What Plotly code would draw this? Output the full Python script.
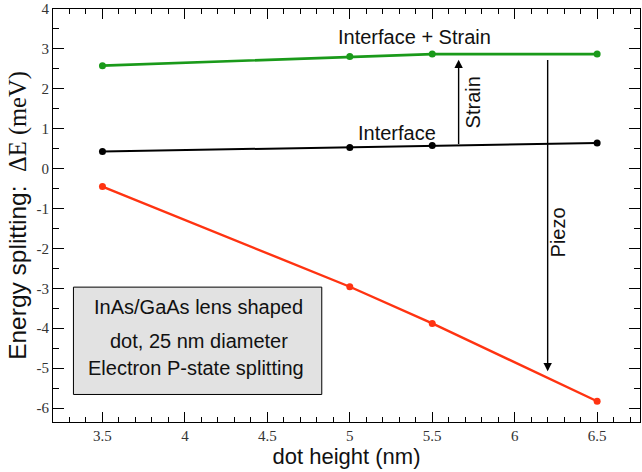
import plotly.graph_objects as go

# Data
dot_height = [3.5, 5.0, 5.5, 6.5]
interface_strain = [2.58, 2.81, 2.87, 2.87]
interface = [0.43, 0.53, 0.58, 0.64]
interface_strain_piezo = [-0.45, -2.96, -3.88, -5.83]

x_range = [3.2, 6.76]
y_range = [-6.35, 4.0]
y_ticks = [4, 3, 2, 1, 0, -1, -2, -3, -4, -5, -6]
x_ticks = [3.5, 4, 4.5, 5, 5.5, 6, 6.5]

info_lines = ["InAs/GaAs lens shaped", "dot, 25 nm diameter", "Electron P-state splitting"]

SANS = "Liberation Sans, Arial, sans-serif"
SERIF = "Liberation Serif, Times New Roman, serif"

fig = go.Figure()

fig.add_trace(go.Scatter(x=dot_height, y=interface_strain, mode="lines+markers",
                         line=dict(color="#1a9a1a", width=2.6),
                         marker=dict(size=7, color="#1a9a1a"), showlegend=False))
fig.add_trace(go.Scatter(x=dot_height, y=interface, mode="lines+markers",
                         line=dict(color="#000000", width=2),
                         marker=dict(size=7, color="#000000"), showlegend=False))
fig.add_trace(go.Scatter(x=dot_height, y=interface_strain_piezo, mode="lines+markers",
                         line=dict(color="#ff3311", width=2.4),
                         marker=dict(size=7, color="#ff3311"), showlegend=False))

# info box
fig.add_shape(type="rect", xref="x", yref="y", x0=3.324, x1=4.83, y0=-5.66, y1=-2.97,
              fillcolor="#e2e2e2", line=dict(color="#000000", width=1), layer="above")
for txt, yy, xx in zip(info_lines, [-3.48, -4.31, -5.0], [4.085, 4.085, 4.07]):
    fig.add_annotation(x=xx, y=yy, xref="x", yref="y", text=txt, showarrow=False,
                       font=dict(family=SANS, size=20, color="#111111"))

# curve labels
fig.add_annotation(x=5.39, y=3.31, text="Interface + Strain", showarrow=False,
                   font=dict(family=SANS, size=20, color="#111111"))
fig.add_annotation(x=5.285, y=0.89, text="Interface", showarrow=False,
                   font=dict(family=SANS, size=20, color="#111111"))

# arrows
fig.add_annotation(x=5.66, y=2.73, ax=5.66, ay=0.58, xref="x", yref="y", axref="x", ayref="y",
                   text="", showarrow=True, arrowhead=2, arrowsize=1.2, arrowwidth=1.4,
                   arrowcolor="#000000")
fig.add_annotation(x=6.2, y=-5.08, ax=6.2, ay=2.76, xref="x", yref="y", axref="x", ayref="y",
                   text="", showarrow=True, arrowhead=2, arrowsize=1.2, arrowwidth=1.4,
                   arrowcolor="#000000")
fig.add_annotation(x=5.75, y=1.67, text="Strain", textangle=-90, showarrow=False,
                   font=dict(family=SANS, size=20, color="#111111"))
fig.add_annotation(x=6.265, y=-1.59, text="Piezo", textangle=-90, showarrow=False,
                   font=dict(family=SANS, size=20, color="#111111"))

axis_common = dict(showgrid=False, zeroline=False, showline=True, linecolor="#000000",
                   linewidth=1, mirror="allticks", ticks="inside", tickcolor="#000000",
                   tickfont=dict(family=SERIF, size=15, color="#333333"))

fig.update_xaxes(range=x_range, tickvals=x_ticks, ticktext=[str(t) for t in x_ticks],
                 ticklen=10, tickwidth=1,
                 minor=dict(dtick=0.1, tick0=3.2, ticks="inside", ticklen=5, tickcolor="#000000"),
                 title=dict(text="dot height (nm)", font=dict(family=SANS, size=22, color="#111111"),
                            standoff=1),
                 **axis_common)
fig.update_yaxes(range=y_range, tickvals=y_ticks, ticktext=[str(t) for t in y_ticks],
                 ticklen=11, tickwidth=1,
                 minor=dict(dtick=0.5, tick0=0, ticks="inside", ticklen=6, tickcolor="#000000"),
                 title=dict(text="Energy splitting:  <span style=\"font-family:Liberation Serif\">ΔE (meV)</span>",
                            font=dict(family=SANS, size=24.5, color="#111111"), standoff=2),
                 **axis_common)

fig.update_layout(width=642, height=472, margin=dict(l=53, r=2, t=9, b=50),
                  plot_bgcolor="#ffffff", paper_bgcolor="#ffffff", showlegend=False)

fig.write_html("out.html")
